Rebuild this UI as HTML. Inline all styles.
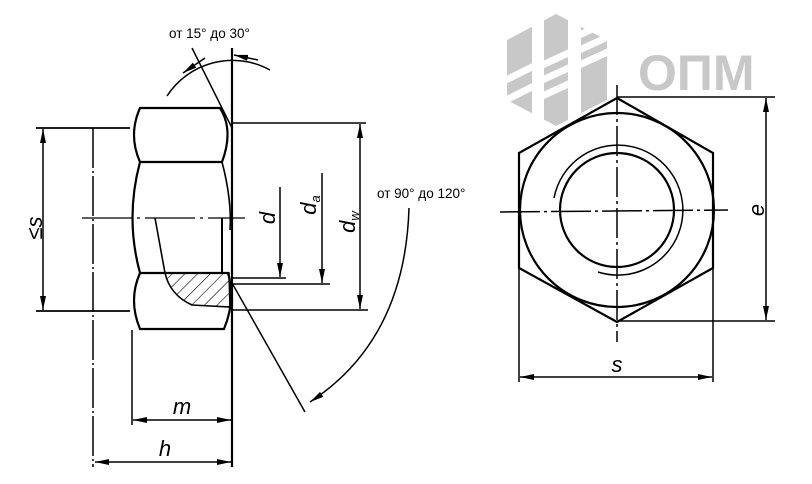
<!DOCTYPE html>
<html><head><meta charset="utf-8"><style>
html,body{margin:0;padding:0;background:#fff;}
svg{display:block;}
</style></head><body>
<svg width="812" height="484" viewBox="0 0 812 484" xmlns="http://www.w3.org/2000/svg">
<defs>
<marker id="a" viewBox="0 0 14 6" refX="14" refY="3" markerWidth="14" markerHeight="6" markerUnits="userSpaceOnUse" orient="auto">
<path d="M0,0 L14,3 L0,6 Z" fill="#000"/></marker>
<clipPath id="hx"><polygon points="507,40 556,14 607,40 607,100 556,126 507,100"/></clipPath>
<pattern id="hat" width="9" height="9" patternUnits="userSpaceOnUse" patternTransform="rotate(45)">
<line x1="0" y1="0" x2="0" y2="9" stroke="#000" stroke-width="1.2"/></pattern>
</defs>

<!-- logo -->
<g clip-path="url(#hx)" fill="#c8c8c8">
<rect x="507" y="10" width="25" height="120"/>
<rect x="544" y="10" width="24" height="120"/>
<rect x="581" y="10" width="26" height="120"/>
</g>
<g stroke="#fff" stroke-width="7">
<line x1="500" y1="83" x2="540" y2="63"/>
<line x1="500" y1="103" x2="540" y2="83"/>
<line x1="538" y1="67" x2="575" y2="50"/>
<line x1="538" y1="82" x2="575" y2="65"/>
<line x1="538" y1="98" x2="575" y2="81"/>
<line x1="575" y1="37" x2="612" y2="20"/>
<line x1="575" y1="52" x2="612" y2="35"/>
<line x1="575" y1="67" x2="612" y2="50"/>
</g>
<text x="638" y="90" font-family="Liberation Sans, sans-serif" font-weight="bold" font-size="50" fill="#c8c8c8">ОПМ</text>

<g fill="none" stroke="#000" stroke-width="1.5">
<!-- LEFT VIEW -->
<line x1="232" y1="48" x2="232" y2="467" stroke-width="2.2"/>
<path d="M140,108 L220,108 Q234,130 222,162 L140,162 Q128,135 140,108 Z" stroke-width="2.2"/>
<path d="M140,162 Q125,218 140,273" stroke-width="2.2"/>
<path d="M222,162 Q232,200 230,230" stroke-width="1.6"/>
<path d="M140,273 L228,273 Q236,300 224,329 L140,329 Q128,300 140,273 Z" stroke-width="2.2"/>
<path d="M155,218 L165,273" stroke-width="1.6"/>
<line x1="222" y1="218" x2="222" y2="273" stroke-width="2"/>
<path d="M165,273 L229,273 L230,307 L192,305 Q170,295 165,273 Z" fill="url(#hat)" stroke-width="1.6"/>
<line x1="82" y1="218" x2="245" y2="218" stroke-dasharray="50,5,3,5" stroke-width="1.3"/>
<!-- s dim -->
<line x1="36" y1="128" x2="130" y2="128" stroke-width="1.7"/>
<line x1="36" y1="311" x2="130" y2="311" stroke-width="1.7"/>
<line x1="43" y1="220" x2="43" y2="129" marker-end="url(#a)"/>
<line x1="43" y1="220" x2="43" y2="310" marker-end="url(#a)"/>
<line x1="93" y1="128" x2="93" y2="467" stroke-dasharray="40,3,2,3"/>
<line x1="132" y1="330" x2="132" y2="425"/>
<line x1="182" y1="420" x2="133" y2="420" marker-end="url(#a)"/>
<line x1="182" y1="420" x2="231" y2="420" marker-end="url(#a)"/>
<line x1="162" y1="462" x2="95" y2="462" marker-end="url(#a)"/>
<line x1="162" y1="462" x2="231" y2="462" marker-end="url(#a)"/>
<!-- right dims -->
<line x1="232" y1="123" x2="366" y2="123"/>
<line x1="232" y1="310" x2="368" y2="310"/>
<line x1="360" y1="216" x2="360" y2="124" marker-end="url(#a)"/>
<line x1="360" y1="216" x2="360" y2="309" marker-end="url(#a)"/>
<line x1="232" y1="278" x2="286" y2="278"/>
<line x1="280" y1="187" x2="280" y2="277" marker-end="url(#a)"/>
<line x1="232" y1="284" x2="330" y2="284"/>
<line x1="322" y1="173" x2="322" y2="283" marker-end="url(#a)"/>
<!-- angles -->
<line x1="232" y1="128" x2="192" y2="48"/>
<path d="M167,96 A78,78 0 0 1 270,70"/>
<line x1="205" y1="58" x2="183" y2="73" marker-end="url(#a)"/>
<line x1="258" y1="60" x2="234" y2="55" marker-end="url(#a)"/>
<line x1="232" y1="283" x2="305" y2="412"/>
<path d="M409,208 Q405,340 310,402" marker-end="url(#a)"/>

<!-- RIGHT VIEW -->
<polygon points="617,98 713,153 713,268 617,322 519,268 519,153" stroke-width="2.2"/>
<circle cx="617" cy="210" r="97" stroke-width="2.2"/>
<circle cx="617" cy="210" r="57" stroke-width="2.2"/>
<path d="M554,198 A65,65 0 1 1 598,272" stroke-width="1.5"/>
<line x1="500" y1="212" x2="728" y2="210" stroke-dasharray="40,4,3,4"/>
<line x1="617" y1="85" x2="617" y2="342" stroke-dasharray="30,4,3,4"/>
<line x1="617" y1="97" x2="775" y2="97"/>
<line x1="617" y1="321" x2="775" y2="321"/>
<line x1="766" y1="210" x2="766" y2="98" marker-end="url(#a)"/>
<line x1="766" y1="210" x2="766" y2="320" marker-end="url(#a)"/>
<line x1="519" y1="268" x2="519" y2="382"/>
<line x1="713" y1="268" x2="713" y2="382"/>
<line x1="617" y1="377" x2="520" y2="377" marker-end="url(#a)"/>
<line x1="617" y1="377" x2="712" y2="377" marker-end="url(#a)"/>
</g>

<g font-family="Liberation Sans, sans-serif" fill="#000">
<text x="169" y="38" font-size="13.5">от 15° до 30°</text>
<text x="377" y="198" font-size="13.5">от 90° до 120°</text>
<g font-style="italic" font-size="22">
<text transform="translate(42,228) rotate(-90)" text-anchor="middle">≤s</text>
<text x="182" y="414" text-anchor="middle">m</text>
<text x="165" y="456" text-anchor="middle">h</text>
<text transform="translate(275,218) rotate(-90)" text-anchor="middle">d</text>
<text transform="translate(316,205) rotate(-90)" text-anchor="middle">d<tspan font-size="13" dy="4">a</tspan></text>
<text transform="translate(355,222) rotate(-90)" text-anchor="middle">d<tspan font-size="13" dy="4">w</tspan></text>
<text transform="translate(764,210) rotate(-90)" text-anchor="middle">e</text>
<text x="617" y="372" text-anchor="middle">s</text>
</g>
</g>
</svg>
</body></html>
